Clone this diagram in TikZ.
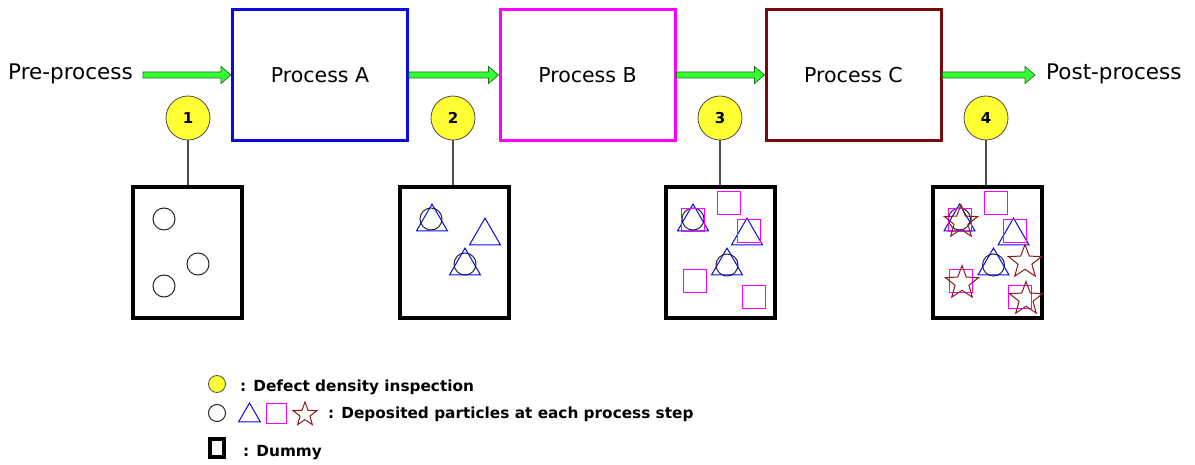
\documentclass[tikz,border=0pt]{standalone}
\usepackage{fontspec}
\setmainfont{DejaVu Sans}
\usetikzlibrary{shapes.geometric,calc}
\definecolor{agreen}{HTML}{33FF33}
\definecolor{adark}{HTML}{1E6E1E}
\definecolor{pblue}{HTML}{0A0AE6}
\definecolor{pmag}{HTML}{FF00FF}
\definecolor{pred}{HTML}{7A0A0A}
\definecolor{stared}{HTML}{8B1A1A}
\definecolor{ylw}{HTML}{FFFF33}
\begin{document}
\begin{tikzpicture}[x=1pt,y=-1pt,
 procbox/.style={draw, line width=3pt, minimum width=175pt, minimum height=131pt, inner sep=0pt, font=\fontsize{20.5}{24}\selectfont},
 lbl/.style={inner sep=0pt, font=\fontsize{21.5}{24}\selectfont},
 insp/.style={circle, draw=black!70, fill=ylw, line width=0.8pt, minimum size=44pt, inner sep=0pt, font=\bfseries\fontsize{15}{16}\selectfont},
 dummy/.style={draw, line width=4pt, minimum width=109pt, minimum height=131pt, inner sep=0pt},
 stem/.style={draw=black!70, line width=1.2pt},
 garrow/.style={fill=agreen, draw=adark, line width=0.7pt, line join=miter,
   to path={let \p1=(\tikztostart), \p2=(\tikztotarget) in
     (\x1,\y2-3pt) -- (\x2-10pt,\y2-3pt) -- (\x2-10pt,\y2-8.5pt) -- (\x2,\y2) -- (\x2-10pt,\y2+8.5pt) -- (\x2-10pt,\y2+3pt) -- (\x1,\y2+3pt) -- cycle}},
 pc/.style={circle, draw=black!85, line width=1pt, minimum size=22pt, inner sep=0pt},
 pt/.style={regular polygon, regular polygon sides=3, draw=pblue, line width=1pt, minimum size=35.8pt, inner sep=0pt},
 ps/.style={rectangle, draw=pmag, line width=1pt, minimum size=23pt, inner sep=0pt},
 pst/.style={star, star points=5, star point ratio=2.4, draw=stared, line width=1pt, minimum size=35pt, inner sep=0pt},
 leg/.style={anchor=base west, inner sep=0pt, font=\bfseries\fontsize{15.3}{18}\selectfont}
]
\useasboundingbox (0,0) rectangle (1195,465);
% process boxes
\node[procbox, draw=pblue] (A) at (320,75) {Process A};
\node[procbox, draw=pmag] (B) at (587.5,75) {Process B};
\node[procbox, draw=pred] (C) at (853.5,75) {Process C};
\node[lbl, anchor=base east] (pre) at (133,80) {Pre-process};
\node[lbl, anchor=base west] (post) at (1046,80) {Post-process};
% arrows
\draw[garrow] ([xshift=10pt]pre.east) to (A.west);
\draw[garrow] (A.east) to (B.west);
\draw[garrow] (B.east) to (C.west);
\draw[garrow] (C.east) to ([xshift=-11pt]post.west |- C.east);
% inspections
\node[insp] (i1) at (188,118) {1};
\node[insp] (i2) at (453,118) {2};
\node[insp] (i3) at (720,118) {3};
\node[insp] (i4) at (986,118) {4};
% dummies
\node[dummy] (d1) at (187.5,252.5) {};
\node[dummy] (d2) at (454.5,252.5) {};
\node[dummy] (d3) at (720.5,252.5) {};
\node[dummy] (d4) at (987,252.5) {};
\draw[stem] (i1.south) -- (i1.south |- d1.north);
\draw[stem] (i2.south) -- (i2.south |- d2.north);
\draw[stem] (i3.south) -- (i3.south |- d3.north);
\draw[stem] (i4.south) -- (i4.south |- d4.north);
% box 1
\node[pc] (b1c1) at (164,219) {};
\node[pc] (b1c2) at (198,264) {};
\node[pc] (b1c3) at (164,286) {};
% box 2
\node[pc] (b2c1) at (431,219) {};
\node[pc] (b2c3) at (465,264) {};
\node[pt] (b2t1) at (432,222) {};
\node[pt] (b2t2) at (485,236) {};
\node[pt] (b2t3) at (465,266) {};
% boxes 3 and 4
\foreach \k/\dx in {3/0,4/266.5}{
 \begin{scope}[xshift=\dx pt]
  \node[pc] (b\k c1) at (693,219) {};
  \node[pc] (b\k c3) at (727,265) {};
  \node[pt] (b\k t1) at (693,222) {};
  \node[pt] (b\k t2) at (747,236) {};
  \node[pt] (b\k t3) at (727,266) {};
  \node[ps] (b\k s1) at (693,220) {};
  \node[ps] (b\k s2) at (729,203) {};
  \node[ps] (b\k s3) at (748.5,231) {};
  \node[ps] (b\k s4) at (694.5,281) {};
  \node[ps] (b\k s5) at (753.5,297.5) {};
 \end{scope}
}
\node[pst] (b4st1) at (961,222) {};
\node[pst] (b4st2) at (1025,262) {};
\node[pst] (b4st3) at (962,283) {};
\node[pst] (b4st4) at (1026,299) {};
% legend
\node[circle, draw=black!70, fill=ylw, line width=0.8pt, minimum size=17pt, inner sep=0pt] (lg1) at (217,384) {};
\node[leg] (lt1) at (240,391) {: Defect density inspection};
\node[pc, minimum size=17pt] (lg2) at (217,413) {};
\node[pt, minimum size=25pt] (lg3) at (249.5,415.5) {};
\node[ps, minimum size=20pt] (lg4) at (276.5,413.5) {};
\node[pst, minimum size=25pt] (lg5) at (305,414.5) {};
\node[leg] (lt2) at (328,418) {: Deposited particles at each process step};
\node[draw, line width=4pt, minimum width=14pt, minimum height=18pt, inner sep=0pt] (lg6) at (217,448) {};
\node[leg] (lt3) at (243,456) {: Dummy};
\end{tikzpicture}
\end{document}
